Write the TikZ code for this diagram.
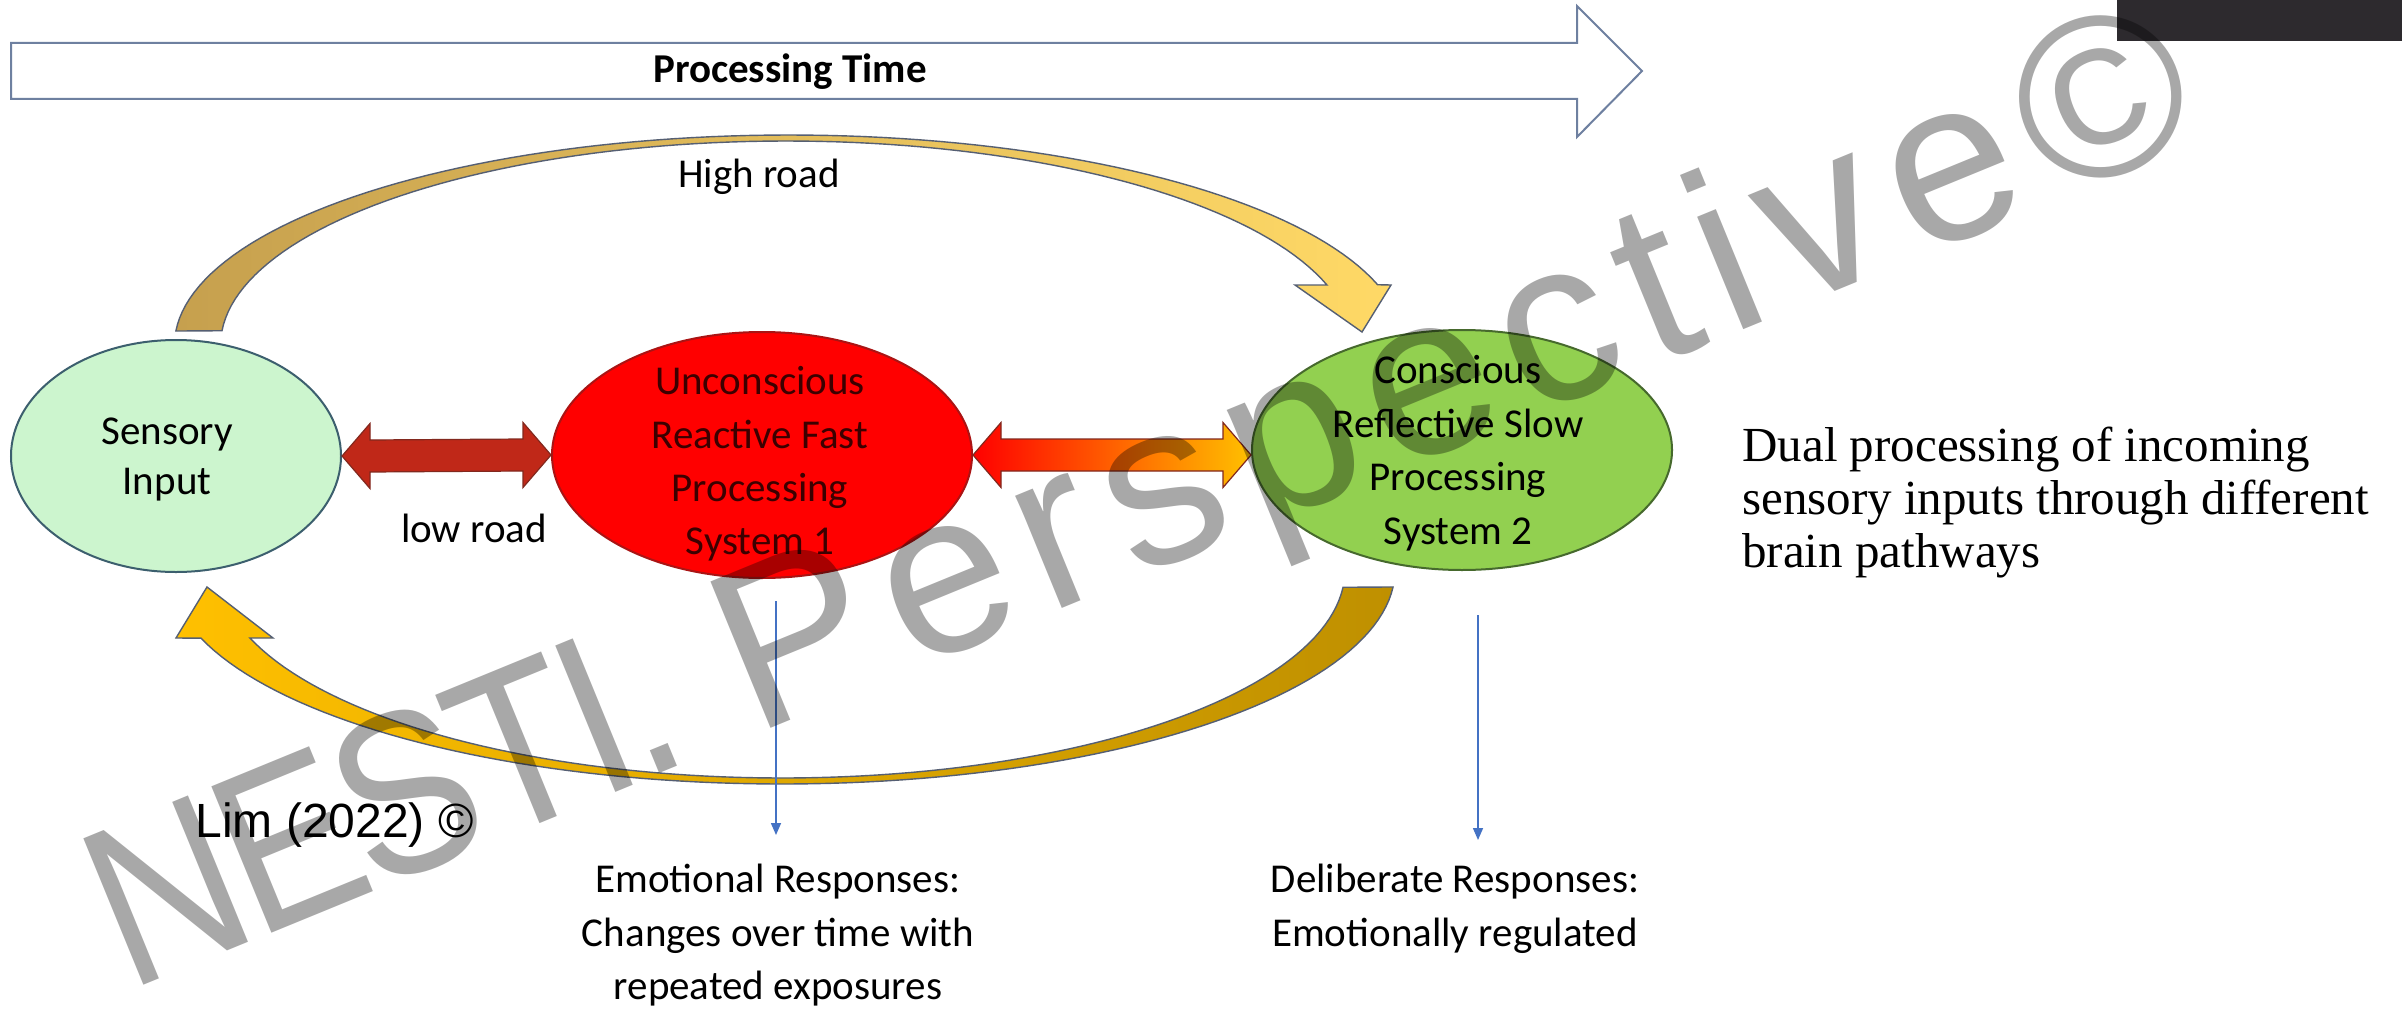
\documentclass[tikz,border=0pt]{standalone}
\usepackage{fontspec}
\setmainfont{Carlito}
\newfontfamily\rightserif{Liberation Serif}
\newfontfamily\arialfont{Liberation Sans}
\usetikzlibrary{shapes.geometric,arrows.meta,calc}
\definecolor{sensfill}{RGB}{204,245,206}
\definecolor{sensedge}{RGB}{60,95,110}
\definecolor{redfill}{RGB}{255,0,0}
\definecolor{rededge}{RGB}{170,20,20}
\definecolor{redtext}{RGB}{60,0,0}
\definecolor{greenfill}{RGB}{146,208,80}
\definecolor{greenedge}{RGB}{70,105,45}
\definecolor{brick}{RGB}{192,40,24}
\definecolor{brickedge}{RGB}{130,40,30}
\definecolor{gold}{RGB}{255,192,0}
\definecolor{darkgold}{RGB}{191,144,0}
\definecolor{tan}{RGB}{198,160,78}
\definecolor{lightgold}{RGB}{255,217,102}
\definecolor{bandedge}{RGB}{85,95,115}
\definecolor{timeedge}{RGB}{110,128,160}
\definecolor{bluearrow}{RGB}{68,114,196}
\definecolor{darkbox}{RGB}{45,42,46}
\begin{document}
\begin{tikzpicture}[x=0.5pt,y=-0.5pt,
  bodyfont/.style={font=\fontsize{20.5}{26.7}\selectfont},
  ellbox/.style={ellipse,inner sep=0pt,line width=1pt},
  ltext/.style={inner sep=0pt,align=center},
  band/.style={draw=bandedge,line width=0.7pt},
  dblarrow/.style={draw=brickedge,line width=0.6pt},
  bluearr/.style={draw=bluearrow,line width=0.75pt,-{Triangle[length=6pt,width=5pt]}},
  wm/.style={font=\arialfont\fontsize{115}{115}\selectfont,text=black,text opacity=0.34,inner sep=0pt}]
\useasboundingbox (0,0) rectangle (2402,1011);
\fill[white] (0,0) rectangle (2402,1011);

% processing time arrow
\draw[timeedge,line width=1pt,fill=white] (11,43) -- (1577,43) -- (1577,6) -- (1642,71) -- (1577,137) -- (1577,99) -- (11,99) -- cycle;
\node[ltext,font=\bfseries\fontsize{20.5}{24}\selectfont,anchor=base] (ptime) at (790,83) {Processing Time};

% ellipses
\node[ellbox,draw=sensedge,fill=sensfill,minimum width=165pt,minimum height=116pt] (sens) at (176,456) {};
\node[ellbox,draw=rededge,fill=redfill,minimum width=210pt,minimum height=123pt] (red) at (762,455) {};
\node[ellbox,draw=greenedge,fill=greenfill,minimum width=210pt,minimum height=120pt] (green) at (1462,450) {};

\node[ltext,font=\fontsize{20.5}{25}\selectfont] (senstxt) at (167,459) {Sensory\\Input};
\node[ltext,bodyfont,text=redtext] (redtxt) at (760,464) {Unconscious\\Reactive Fast\\Processing\\System 1};
\node[ltext,font=\fontsize{20.5}{26.8}\selectfont,text=black] (greentxt) at (1458,453) {Conscious\\Reflective Slow\\Processing\\System 2};

% high road band
\path[band,left color=tan,right color=lightgold]
  plot[domain=0:1,samples=90,variable=\s] ({789+614.5*cos(176.18-159.58*\s)},{345-210*sin(176.18-159.58*\s)})
  -- (1391,285) -- (1362,332) -- (1295,285)
  -- plot[domain=0:1,samples=90,variable=\s] ({786.3+565.7*cos(17.1+158.97*\s)},{345-204*sin(17.1+158.97*\s)})
  -- cycle;
\node[ltext,bodyfont,anchor=base] (high) at (759,187) {High road};

% low (return) band
\path[band,left color=gold,right color=darkgold]
  plot[domain=0:1,samples=90,variable=\s] ({782+613*cos(4.55+156.95*\s)},{570+214*sin(4.55+156.95*\s)})
  -- (176,638) -- (207,587) -- (273,638)
  -- plot[domain=0:1,samples=90,variable=\s] ({782+563*cos(160.92-156.23*\s)},{570+208*sin(160.92-156.23*\s)})
  -- cycle;

% double arrows
\path[dblarrow,fill=brick] (sens.east) -- ++(28,-32.5) -- ++(0,16.5) -- ($(red.west)+(-28,-16)$) -- ++(0,-16.5) -- (red.west) -- ++(-28,32.5) -- ++(0,-16.5) -- ($(sens.east)+(28,16)$) -- ++(0,16.5) -- cycle;
\node[ltext,bodyfont,anchor=base] (low) at (474,542) {low road};

\coordinate (gtip) at (red.east -| green.west);
\path[dblarrow,left color=red,middle color={rgb,255:red,255;green,120;blue,0},right color=gold]
  (red.east) -- ++(28,-32.5) -- ++(0,16.5) -- ($(gtip)+(-28,-16)$) -- ++(0,-16.5) -- (gtip) -- ++(-28,32.5) -- ++(0,-16.5) -- ($(red.east)+(28,16)$) -- ++(0,16.5) -- cycle;

% responses
\node[ltext,bodyfont,anchor=north] (emo) at (778,864) {Emotional Responses:\\Changes over time with\\repeated exposures};
\node[ltext,bodyfont,anchor=north] (del) at (1455,864) {Deliberate Responses:\\Emotionally regulated};
\draw[bluearr] ($(red.south -| emo.north)+(-2,22)$) -- ($(emo.north)+(-2,-29)$);
\draw[bluearr] ($(green.south)+(16,44)$) -- ($(del.north)+(23,-24)$);

% side texts
\node[inner sep=0pt,anchor=base west,font=\arialfont\fontsize{24}{28}\selectfont] (lim) at (195,837) {Lim (2022) ©};
\node[inner sep=0pt,align=left,anchor=north west,font=\rightserif\fontsize{24.5}{26.5}\selectfont] (dual) at (1742,427) {Dual processing of incoming\\sensory inputs through different\\brain pathways};

% top-right dark box
\fill[darkbox] (2117,0) rectangle (2402,41);

% watermark
\node[wm,rotate=22.3,anchor=base west] (wmark) at (128,992) {\scalebox{0.88}[1]{\addfontfeature{LetterSpace=-4}NESTI.} {\addfontfeature{LetterSpace=8}Perspective©}};
\end{tikzpicture}
\end{document}
